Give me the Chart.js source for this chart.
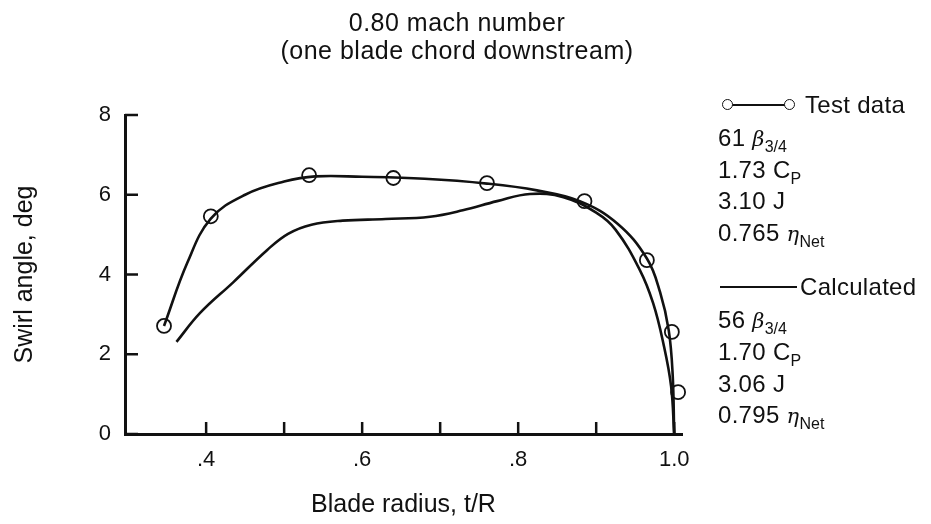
<!DOCTYPE html>
<html>
<head>
<meta charset="utf-8">
<script src="https://cdn.jsdelivr.net/npm/chart.js@4.4.1/dist/chart.umd.min.js"></script>
<style>
  html, body { margin: 0; padding: 0; background: #fff; }
  #wrap { position: relative; width: 931px; height: 524px; font-family: "Liberation Sans", Arial, sans-serif; color: #111; }
  #swirlChart { position: absolute; left: 0; top: 0; }
  .title { position: absolute; left: 257px; width: 400px; top: 8px; text-align: center; font-size: 25px; line-height: 28px; letter-spacing: 0.5px; }
  .key { position: absolute; left: 718px; font-size: 24px; line-height: 30px; white-space: nowrap; letter-spacing: 0.3px; }
  .key i { font-family: "DejaVu Serif", serif; font-size: 21px; }
  .sub { font-size: 16px; position: relative; top: 6px; letter-spacing: 0; }
  .line { position: absolute; height: 0; border-top: 2.5px solid #111; }
  .dot { position: absolute; width: 9px; height: 9px; border: 1.5px solid #111; border-radius: 50%; background: #fff; }
</style>
</head>
<body>
<div id="wrap">
  <canvas id="swirlChart" width="931" height="524"></canvas>

  <div class="title">0.80 mach number<br>(one blade chord downstream)</div>

  <!-- test data key -->
  <div class="line" style="left:728px; top:104px; width:62px;"></div>
  <div class="dot" style="left:722px; top:99px;"></div>
  <div class="dot" style="left:784px; top:99px;"></div>
  <div class="key" style="left:805px; top:90px;">Test data</div>
  <div class="key" style="top:123px;">61 <i>β</i><span class="sub">3/4</span></div>
  <div class="key" style="top:155px;">1.73 C<span class="sub">P</span></div>
  <div class="key" style="top:186px;">3.10 J</div>
  <div class="key" style="top:218px;">0.765 <i>η</i><span class="sub">Net</span></div>

  <!-- calculated key -->
  <div class="line" style="left:720px; top:286px; width:77px;"></div>
  <div class="key" style="left:800px; top:272px;">Calculated</div>
  <div class="key" style="top:305px;">56 <i>β</i><span class="sub">3/4</span></div>
  <div class="key" style="top:337px;">1.70 C<span class="sub">P</span></div>
  <div class="key" style="top:369px;">3.06 J</div>
  <div class="key" style="top:400px;">0.795 <i>η</i><span class="sub">Net</span></div>
</div>

<script>
// Axis ticks
const xTicks = [0.4, 0.5, 0.6, 0.7, 0.8, 0.9, 1.0];
const yTicks = [0, 2, 4, 6, 8];

// Measured swirl angles (circles)
const testRadius = [0.346, 0.406, 0.532, 0.640, 0.760, 0.885, 0.965, 0.997, 1.005];
const testSwirl = [2.71, 5.46, 6.49, 6.42, 6.29, 5.84, 4.36, 2.56, 1.05];

// Faired curve through the test data
const testFitRadius = [0.346, 0.376, 0.406, 0.450, 0.500, 0.540, 0.600, 0.680, 0.760, 0.824, 0.879, 0.927, 0.965, 0.982, 0.993, 0.998, 1.0];
const testFitSwirl = [2.71, 4.30, 5.40, 6.00, 6.33, 6.46, 6.45, 6.40, 6.28, 6.11, 5.84, 5.28, 4.40, 3.55, 2.60, 1.50, 0];

// Calculated swirl angle
const calcRadius = [0.362, 0.392, 0.435, 0.478, 0.505, 0.535, 0.575, 0.630, 0.687, 0.729, 0.773, 0.815, 0.858, 0.900, 0.925, 0.956, 0.973, 0.986, 0.996, 1.0];
const calcSwirl = [2.31, 3.03, 3.81, 4.61, 5.02, 5.25, 5.35, 5.39, 5.45, 5.61, 5.84, 6.02, 5.94, 5.55, 5.12, 4.11, 3.28, 2.28, 1.20, 0];

const toPoints = (xs, ys) => xs.map((x, i) => ({ x: x, y: ys[i] }));

// Short tick marks pointing into the plot area
const innerTicks = {
  id: 'innerTicks',
  afterDatasetsDraw(chart) {
    const { ctx, chartArea, scales } = chart;
    ctx.save();
    ctx.strokeStyle = '#111';
    ctx.lineWidth = 2.5;
    ctx.beginPath();
    xTicks.forEach(v => {
      const px = scales.x.getPixelForValue(v);
      ctx.moveTo(px, chartArea.bottom);
      ctx.lineTo(px, chartArea.bottom - 12);
    });
    yTicks.forEach(v => {
      const py = scales.y.getPixelForValue(v);
      ctx.moveTo(chartArea.left, py);
      ctx.lineTo(chartArea.left + 13, py);
    });
    ctx.stroke();
    ctx.restore();
  }
};

const curveStyle = {
  showLine: true,
  pointRadius: 0,
  borderColor: '#111',
  borderWidth: 2.6,
  tension: 0.4,
  fill: false
};

new Chart(document.getElementById('swirlChart'), {
  type: 'scatter',
  data: {
    datasets: [
      Object.assign({ label: 'Test data fit', data: toPoints(testFitRadius, testFitSwirl) }, curveStyle),
      Object.assign({ label: 'Calculated', data: toPoints(calcRadius, calcSwirl) }, curveStyle),
      {
        label: 'Test data',
        data: toPoints(testRadius, testSwirl),
        showLine: false,
        pointRadius: 7,
        pointBackgroundColor: '#fff',
        pointBorderColor: '#111',
        pointBorderWidth: 1.8
      }
    ]
  },
  options: {
    responsive: false,
    animation: false,
    clip: false,
    layout: { padding: { top: 115, right: 249, left: 0, bottom: 0 } },
    plugins: {
      legend: { display: false },
      tooltip: { enabled: false }
    },
    scales: {
      x: {
        type: 'linear',
        min: 0.296,
        max: 1.01,
        afterBuildTicks: scale => { scale.ticks = xTicks.map(v => ({ value: v })); },
        afterFit: scale => { scale.height = 90; },
        grid: { display: false, drawTicks: false },
        border: { display: true, color: '#111', width: 3 },
        ticks: {
          color: '#111',
          font: { family: 'Liberation Sans', size: 22 },
          padding: 13,
          maxRotation: 0,
          autoSkip: false,
          callback: v => {
            const r = Math.round(v * 10);
            if (r % 2 !== 0) return '';
            return r === 10 ? '1.0' : '.' + r;
          }
        },
        title: {
          display: true,
          text: 'Blade radius, t/R',
          color: '#111',
          font: { family: 'Liberation Sans', size: 25 },
          padding: { top: 6 }
        }
      },
      y: {
        min: 0,
        max: 8,
        afterBuildTicks: scale => { scale.ticks = yTicks.map(v => ({ value: v })); },
        afterFit: scale => { scale.width = 125; },
        grid: { display: false, drawTicks: false },
        border: { display: true, color: '#111', width: 3 },
        ticks: {
          color: '#111',
          font: { family: 'Liberation Sans', size: 22 },
          padding: 14
        },
        title: {
          display: true,
          text: 'Swirl angle, deg',
          color: '#111',
          font: { family: 'Liberation Sans', size: 25 },
          padding: { top: 10, bottom: 0 }
        }
      }
    }
  },
  plugins: [innerTicks]
});
</script>
</body>
</html>
